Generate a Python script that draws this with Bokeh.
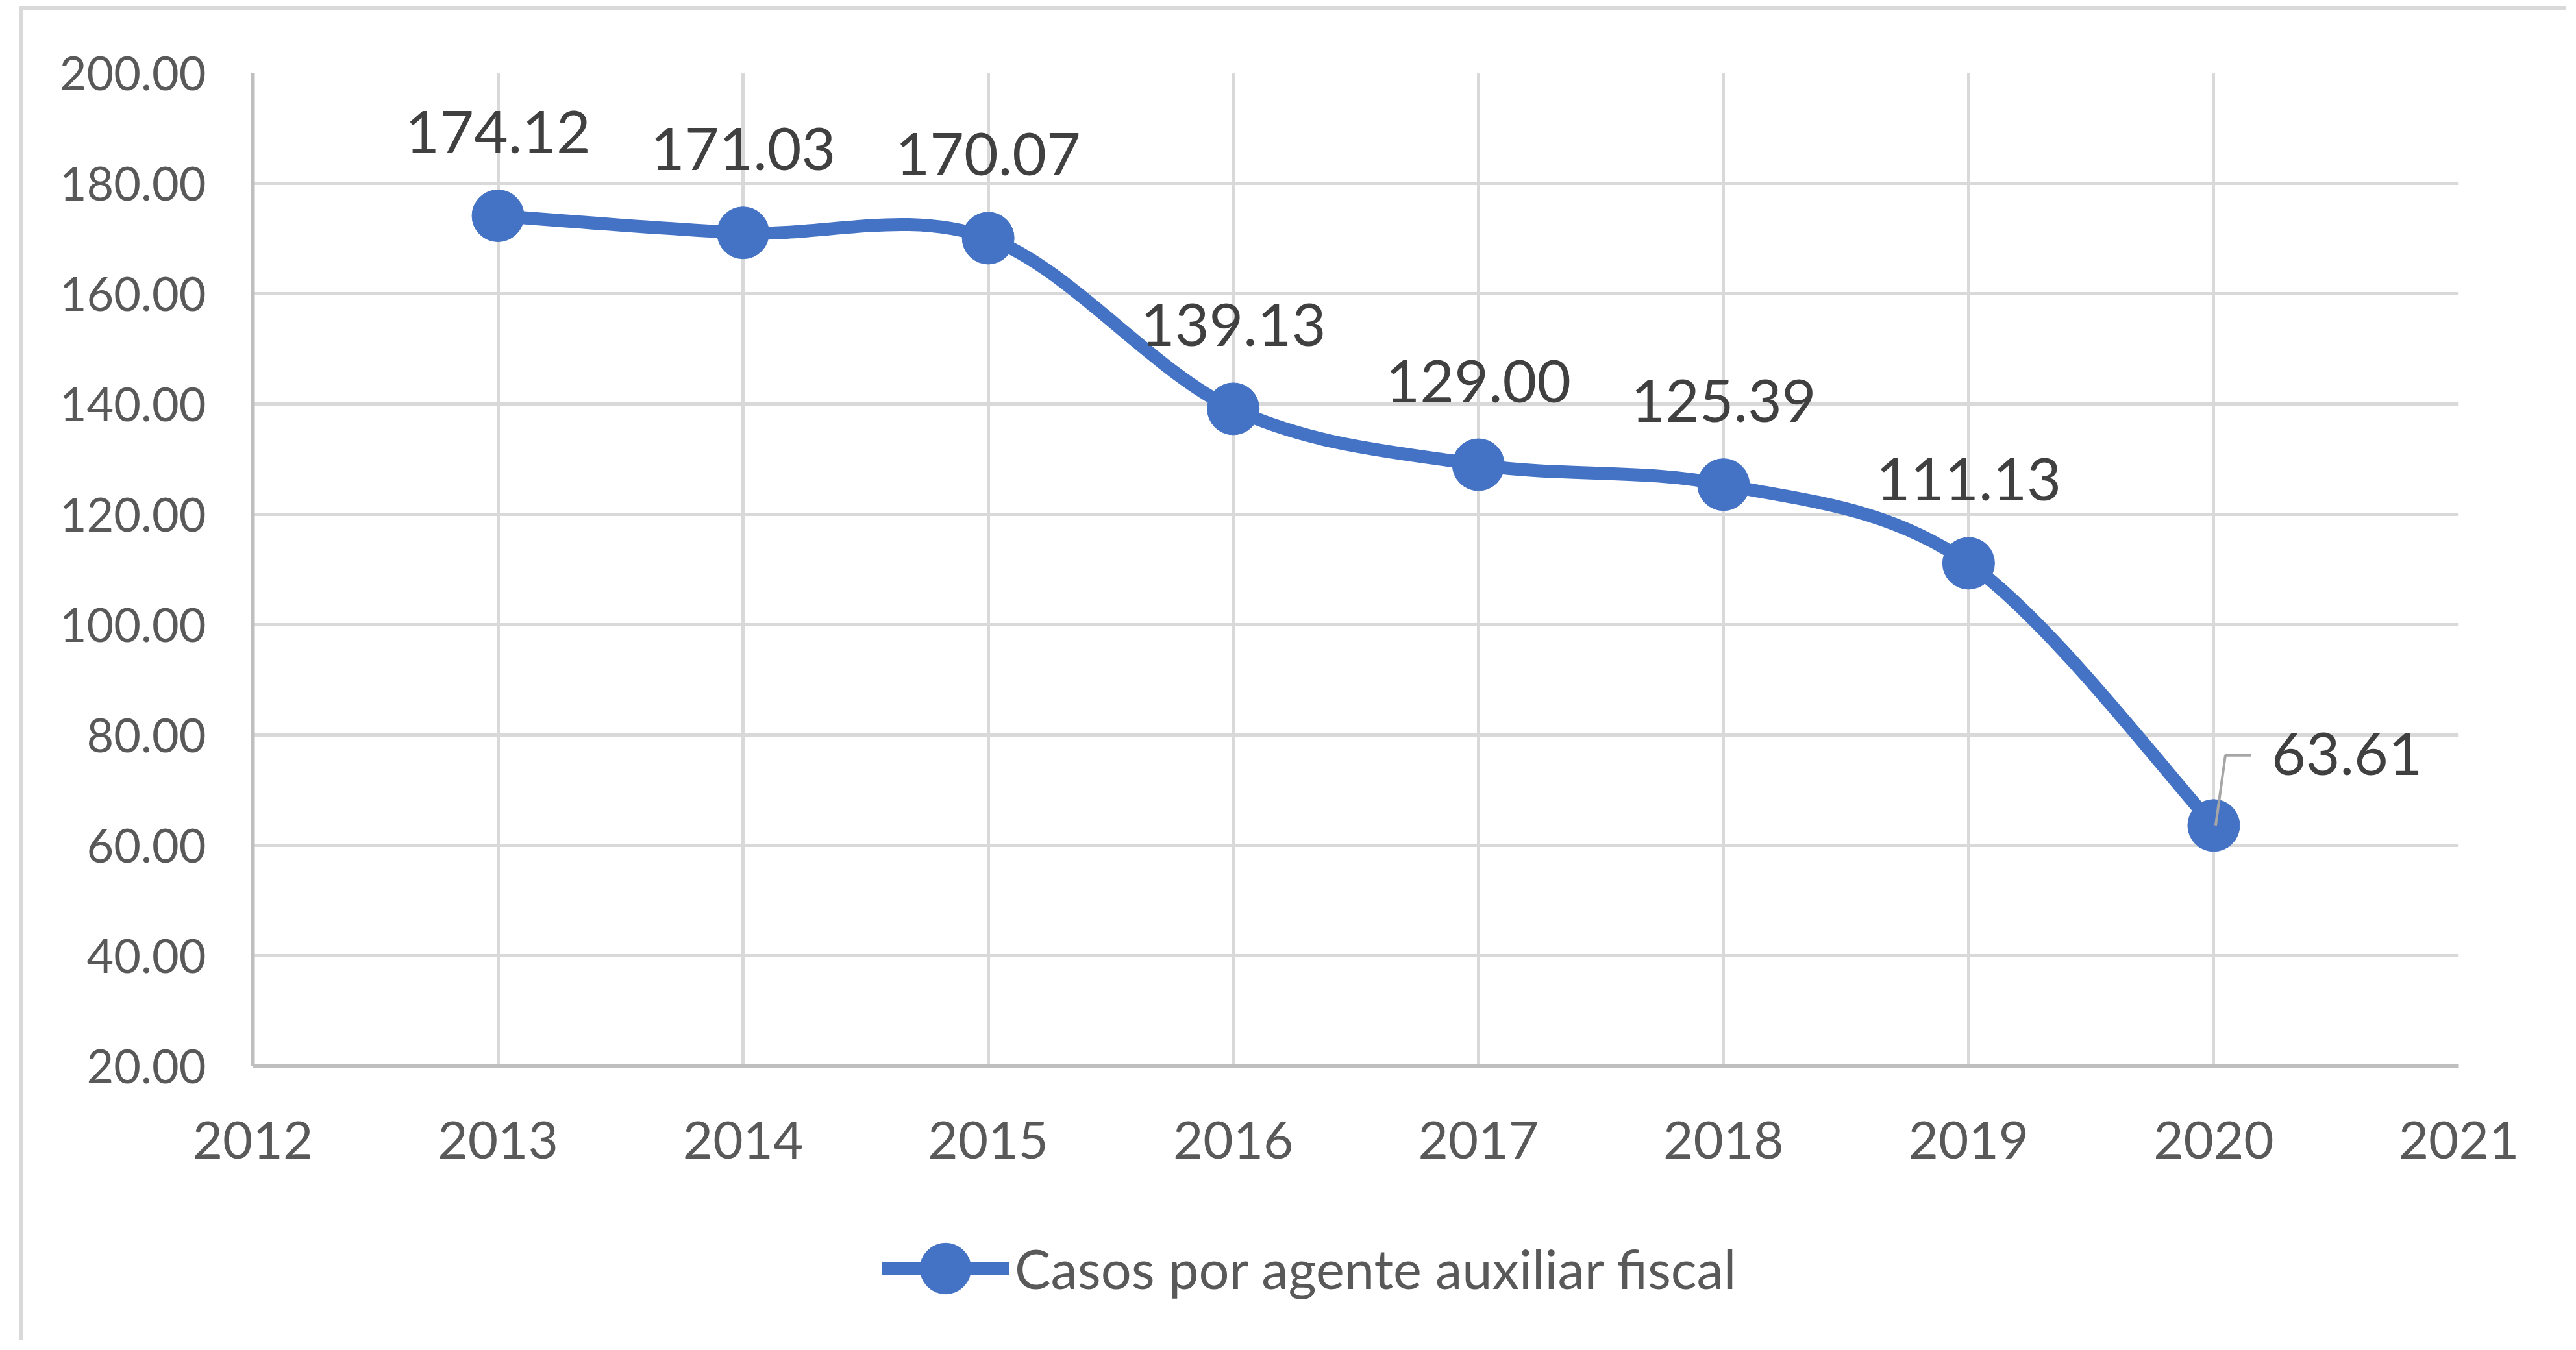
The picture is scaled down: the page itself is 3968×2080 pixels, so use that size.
from bokeh.plotting import figure
from bokeh.layouts import column
from bokeh.models import (FixedTicker, NumeralTickFormatter, Legend, LegendItem, Range1d)
from bokeh.core.properties import value
from bokeh.embed import file_html
from bokeh.resources import INLINE

# ---- data ----
years = [2013, 2014, 2015, 2016, 2017, 2018, 2019, 2020]
casos = [174.12, 171.03, 170.07, 139.13, 129.00, 125.39, 111.13, 63.61]
labels = ["174.12", "171.03", "170.07", "139.13", "129.00", "125.39", "111.13", "63.61"]
x_ticks = [2012, 2013, 2014, 2015, 2016, 2017, 2018, 2019, 2020, 2021]
y_ticks = [20, 40, 60, 80, 100, 120, 140, 160, 180, 200]
series_name = "Casos por agente auxiliar fiscal"

# ---- style ----
BLUE = "#4472C4"
GRID = "#D9D9D9"
AXIS = "#BFBFBF"
TICK_TXT = "#595959"
LBL_TXT = "#404040"
FONT = "Lato"
TOTAL_W, TOTAL_H = 3952, 2064
ML, MT, MR, MB = 389, 112, 165, 210
FRAME_W, FRAME_H = TOTAL_W - ML - MR, 1530
X0, X1, Y0, Y1 = 2012, 2021, 20, 200
px_per_x = FRAME_W / (X1 - X0)
px_per_y = FRAME_H / (Y1 - Y0)

p = figure(frame_width=FRAME_W, frame_height=FRAME_H,
           min_border_left=ML, min_border_top=MT, min_border_right=MR, min_border_bottom=MB,
           x_range=Range1d(X0, X1), y_range=Range1d(Y0, Y1),
           output_backend="svg", toolbar_location=None)
p.outline_line_color = None
p.background_fill_color = "white"
p.border_fill_color = None

# axes
p.xaxis.ticker = FixedTicker(ticks=x_ticks, minor_ticks=[])
p.yaxis.ticker = FixedTicker(ticks=y_ticks, minor_ticks=[])
p.yaxis.formatter = NumeralTickFormatter(format="0.00")
p.xaxis.major_label_overrides = {t: str(t) for t in x_ticks}
for ax in (p.xaxis, p.yaxis):
    ax.axis_line_color = AXIS
    ax.axis_line_width = 6
    ax.major_tick_line_color = None
    ax.minor_tick_line_color = None
    ax.major_tick_out = 0
    ax.major_tick_in = 0
    ax.major_label_text_color = TICK_TXT
    ax.major_label_text_font = FONT
p.yaxis.major_label_text_font_size = "72px"
p.xaxis.major_label_text_font_size = "80px"
p.yaxis.major_label_standoff = 72
p.xaxis.major_label_standoff = 85

p.xgrid.ticker = FixedTicker(ticks=x_ticks)
p.ygrid.ticker = FixedTicker(ticks=y_ticks)
for g in (p.xgrid, p.ygrid):
    g.grid_line_color = GRID
    g.grid_line_width = 5

# smooth line (Excel-style cubic bezier through the points)
n = len(years)
bx0, by0, bx1, by1, cx0, cy0, cx1, cy1 = [], [], [], [], [], [], [], []
for i in range(n - 1):
    im = max(i - 1, 0)
    ip = min(i + 2, n - 1)
    bx0.append(years[i]); by0.append(casos[i])
    bx1.append(years[i + 1]); by1.append(casos[i + 1])
    cx0.append(years[i] + (years[i + 1] - years[im]) / 6)
    cy0.append(casos[i] + (casos[i + 1] - casos[im]) / 6)
    cx1.append(years[i + 1] - (years[ip] - years[i]) / 6)
    cy1.append(casos[i + 1] - (casos[ip] - casos[i]) / 6)
p.bezier(x0=bx0, y0=by0, x1=bx1, y1=by1, cx0=cx0, cy0=cy0, cx1=cx1, cy1=cy1,
         line_color=BLUE, line_width=20, line_cap="round")

p.scatter(x=years, y=casos, size=80, marker="circle", fill_color=BLUE, line_color=BLUE)

# data labels
p.text(x=years[:-1], y=casos[:-1], text=labels[:-1], text_align="center",
       text_baseline="alphabetic", y_offset=-129, text_font=value(FONT),
       text_font_size="91px", text_color=LBL_TXT)
p.text(x=years[-1:], y=casos[-1:], text=labels[-1:], text_align="left",
       text_baseline="middle", x_offset=89, y_offset=-110, text_font=value(FONT),
       text_font_size="91px", text_color=LBL_TXT)

# leader line for last label
lx = years[-1]
ly = casos[-1]
p.line(x=[lx + 3 / px_per_x, lx + 18 / px_per_x, lx + 58 / px_per_x],
       y=[ly, ly + 108 / px_per_y, ly + 108 / px_per_y],
       line_color="#A6A6A6", line_width=4)

# ---- legend strip (second figure below; series drawn off-range, only legend shows) ----
LEG_H = TOTAL_H - (MT + FRAME_H + MB)
q = figure(frame_width=TOTAL_W, frame_height=LEG_H, min_border=0,
           x_range=Range1d(0, 1), y_range=Range1d(0, 1),
           x_axis_type=None, y_axis_type=None,
           output_backend="svg", toolbar_location=None)
q.outline_line_color = None
q.background_fill_color = None
q.border_fill_color = None
q.xgrid.visible = False
q.ygrid.visible = False
lr = q.line(x=years, y=casos, line_color=BLUE, line_width=20)
sr = q.scatter(x=years, y=casos, marker="circle", fill_color=BLUE, line_color=BLUE)
legend = Legend(items=[LegendItem(label=series_name, renderers=[lr, sr])],
                location=(1358, 12), orientation="horizontal",
                glyph_width=196, glyph_height=196, label_standoff=9,
                label_text_font=FONT, label_text_font_size="83px", label_text_color=TICK_TXT,
                padding=0, margin=0, spacing=0,
                border_line_color=None, background_fill_alpha=0)
q.add_layout(legend, "center")

layout = column(p, q, spacing=0)
layout.styles = {
    "background-color": "white",
    "background-image": "linear-gradient(#D9D9D9, #D9D9D9), linear-gradient(#D9D9D9, #D9D9D9)",
    "background-size": "5px 100%, 100% 5px",
    "background-position": "30px 10px, 30px 10px",
    "background-repeat": "no-repeat",
}

open("out.html", "w").write(file_html(layout, INLINE))
